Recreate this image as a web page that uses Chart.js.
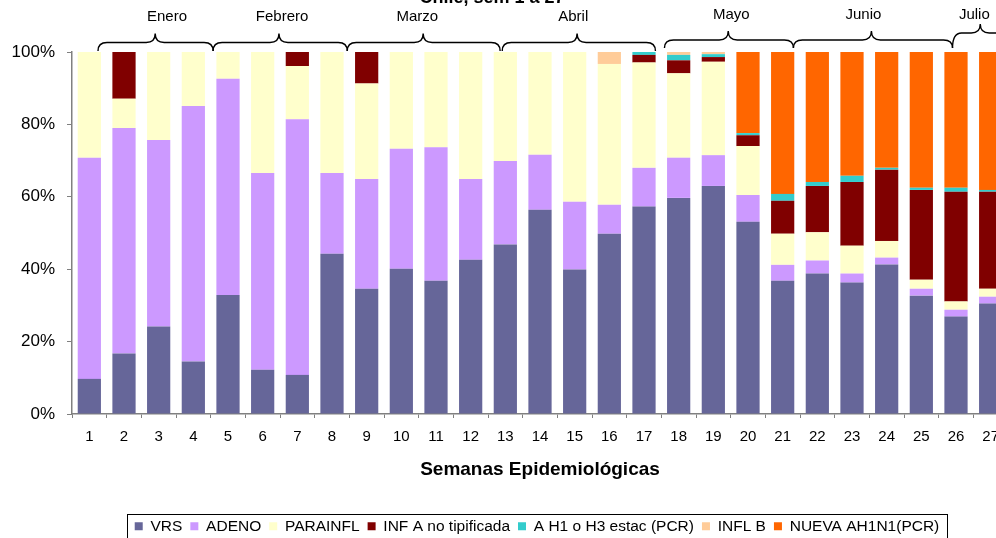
<!DOCTYPE html>
<html>
<head>
<meta charset="utf-8">
<script src="https://cdn.jsdelivr.net/npm/chart.js@4.4.1/dist/chart.umd.min.js"></script>
<style>
    body { margin: 0; background: #fff; overflow: hidden; }
    #wrap { width: 996px; height: 538px; overflow: hidden; position: relative; }
    #chart { position: absolute; left: 0; top: 0; }
</style>
</head>
<body>
<div id="wrap"><canvas id="chart" width="1080" height="544"></canvas></div>
<script>
// Semanas epidemiologicas 1 a 27
const weeks = ['1','2','3','4','5','6','7','8','9','10','11','12','13','14','15','16','17','18','19','20','21','22','23','24','25','26','27'];

// Porcentaje de cada virus por semana
const vrs = [9.7, 16.7, 24.2, 14.5, 32.9, 12.2, 10.8, 44.3, 34.6, 40.1, 36.8, 42.6, 46.8, 56.4, 39.9, 49.8, 57.3, 59.7, 63.0, 53.1, 36.8, 38.8, 36.3, 41.3, 32.7, 26.9, 30.5];
const adeno = [61.1, 62.3, 51.5, 70.6, 59.7, 54.4, 70.6, 22.3, 30.3, 33.2, 36.9, 22.3, 23.1, 15.2, 18.7, 8.0, 10.7, 11.1, 8.5, 7.4, 4.4, 3.6, 2.5, 1.9, 1.9, 1.9, 1.9];
const parainfl = [29.2, 8.1, 24.3, 14.9, 7.4, 33.4, 14.7, 33.4, 26.4, 26.7, 26.3, 35.1, 30.1, 28.4, 41.4, 38.9, 29.1, 23.3, 25.8, 13.5, 8.6, 7.8, 7.7, 4.6, 2.5, 2.3, 2.2];
const infA = [0, 12.9, 0, 0, 0, 0, 3.9, 0, 8.7, 0, 0, 0, 0, 0, 0, 0, 2.1, 3.6, 1.3, 3.0, 9.1, 12.8, 17.6, 19.7, 24.8, 30.3, 26.8];
const h1h3 = [0, 0, 0, 0, 0, 0, 0, 0, 0, 0, 0, 0, 0, 0, 0, 0, 0.8, 1.5, 0.8, 0.6, 1.9, 1.1, 1.7, 0.5, 0.6, 1.1, 0.5];
const inflB = [0, 0, 0, 0, 0, 0, 0, 0, 0, 0, 0, 0, 0, 0, 0, 3.3, 0, 0.8, 0.6, 0, 0, 0, 0, 0, 0, 0, 0];
const ah1n1 = [0, 0, 0, 0, 0, 0, 0, 0, 0, 0, 0, 0, 0, 0, 0, 0, 0, 0, 0, 22.4, 39.2, 35.9, 34.2, 32.0, 37.5, 37.5, 38.1];

const yTicks = [0, 20, 40, 60, 80, 100];

// Meses sobre las barras (en semanas, desde el borde izquierdo)
const months = ['Enero', 'Febrero', 'Marzo', 'Abril', 'Mayo', 'Junio', 'Julio'];
const monthFrom = [0.75, 4.07, 7.94, 12.41, 17.09, 20.81, 25.4];
const monthTo = [4.07, 7.94, 12.35, 16.83, 20.81, 25.4, 27.6];
const monthPeak = [2.4, 5.97, 10.13, 14.57, 18.93, 23.06, 26.2];
const monthLabel = [2.74, 6.06, 9.96, 14.46, 19.02, 22.83, 26.03];

const FONT = '"Liberation Sans", Arial, sans-serif';
Chart.defaults.font.family = FONT;
Chart.defaults.color = '#000';

// Leyenda centrada en la ventana visible, no en el canvas
const LEGEND_SHIFT = 33;
const legendShift = {
    id: 'legendShift',
    afterLayout(chart) {
        const lg = chart.legend;
        if (!lg) return;
        lg.left += LEGEND_SHIFT;
        lg.right += LEGEND_SHIFT;
        (lg.legendHitBoxes || []).forEach(hb => { hb.left += LEGEND_SHIFT; });
    }
};

// Llaves de los meses + titulo cortado
const monthsPlugin = {
    id: 'months',
    afterDraw(chart) {
        const ctx = chart.ctx;
        const x = chart.scales.x;
        const px = u => x.getPixelForValue(u - 0.5);
        ctx.save();
        ctx.strokeStyle = '#000';
        ctx.lineWidth = 1.4;
        ctx.fillStyle = '#000';
        ctx.font = '15px ' + FONT;
        ctx.textAlign = 'center';
        ctx.textBaseline = 'middle';
        months.forEach((m, i) => {
            const late = i >= 4;
            const yLine = i === 6 ? 33 : (late ? 40 : 42.5);
            const yTip = yLine - 9;
            const yEnd = late ? 48 : 51;
            const x0 = px(monthFrom[i]), x1 = px(monthTo[i]), xp = px(monthPeak[i]);
            const r = 9;
            ctx.beginPath();
            ctx.moveTo(x0, yEnd);
            ctx.quadraticCurveTo(x0, yLine, x0 + r, yLine);
            ctx.lineTo(xp - r, yLine);
            ctx.quadraticCurveTo(xp, yLine, xp, yTip);
            ctx.quadraticCurveTo(xp, yLine, xp + r, yLine);
            ctx.lineTo(x1 - r, yLine);
            ctx.quadraticCurveTo(x1, yLine, x1, yEnd);
            ctx.stroke();
            ctx.fillText(m, px(monthLabel[i]), late ? 14.5 : 16.5);
        });
        // titulo (solo se ve la parte baja)
        ctx.font = 'bold 18px ' + FONT;
        ctx.textBaseline = 'alphabetic';
        ctx.fillText('Chile, sem 1 a 27', 492, 3);

        // marco de la leyenda
        const lg = chart.legend;
        const hb = lg.legendHitBoxes;
        if (hb && hb.length) {
            const last = hb[hb.length - 1];
            const left = hb[0].left - 8;
            const right = last.left + last.width + 7;
            ctx.strokeStyle = '#000';
            ctx.lineWidth = 1;
            ctx.strokeRect(Math.round(left) + 0.5, Math.round(lg.top) + 3.5, Math.round(right - left), 40);
        }
        ctx.restore();
    }
};

function ds(label, data, color) {
    return {
        label: label,
        data: data,
        backgroundColor: color,
        borderWidth: 0,
        categoryPercentage: 1,
        barPercentage: 0.67
    };
}

new Chart(document.getElementById('chart'), {
    type: 'bar',
    data: {
        labels: weeks,
        datasets: [
            ds('VRS', vrs, '#666699'),
            ds('ADENO', adeno, '#CC99FF'),
            ds('PARAINFL', parainfl, '#FFFFCC'),
            ds('INF A no tipificada', infA, '#800000'),
            ds('A H1 o H3 estac (PCR)', h1h3, '#33CCCC'),
            ds('INFL B', inflB, '#FFCC99'),
            ds('NUEVA AH1N1(PCR)', ah1n1, '#FF6600')
        ]
    },
    options: {
        responsive: false,
        animation: false,
        layout: { padding: { top: 52, right: 72, left: 0, bottom: 0 } },
        plugins: {
            tooltip: { enabled: false },
            legend: {
                position: 'bottom',
                labels: {
                    boxWidth: 8,
                    boxHeight: 8,
                    padding: 8,
                    font: { size: 15.5 },
                    color: '#000'
                }
            }
        },
        scales: {
            x: {
                stacked: true,
                grid: {
                    offset: true,
                    drawOnChartArea: false,
                    drawTicks: true,
                    tickLength: 4,
                    tickColor: '#808080'
                },
                border: { color: '#808080', width: 1.5 },
                ticks: { font: { size: 15 }, padding: 10, maxRotation: 0, autoSkip: false },
                title: {
                    display: true,
                    text: 'Semanas Epidemiológicas',
                    font: { size: 19, weight: 'bold' },
                    padding: { top: 2.1, bottom: 29.6 }
                }
            },
            y: {
                stacked: true,
                min: 0,
                max: 100,
                afterFit(scale) { scale.width = 72; },
                afterBuildTicks(scale) { scale.ticks = yTicks.map(v => ({ value: v })); },
                grid: {
                    drawOnChartArea: false,
                    drawTicks: true,
                    tickLength: 5,
                    tickColor: '#808080'
                },
                border: { color: '#808080', width: 1.5 },
                ticks: {
                    font: { size: 17 },
                    padding: 12,
                    callback: v => v + '%'
                }
            }
        }
    },
    plugins: [legendShift, monthsPlugin]
});
</script>
</body>
</html>
